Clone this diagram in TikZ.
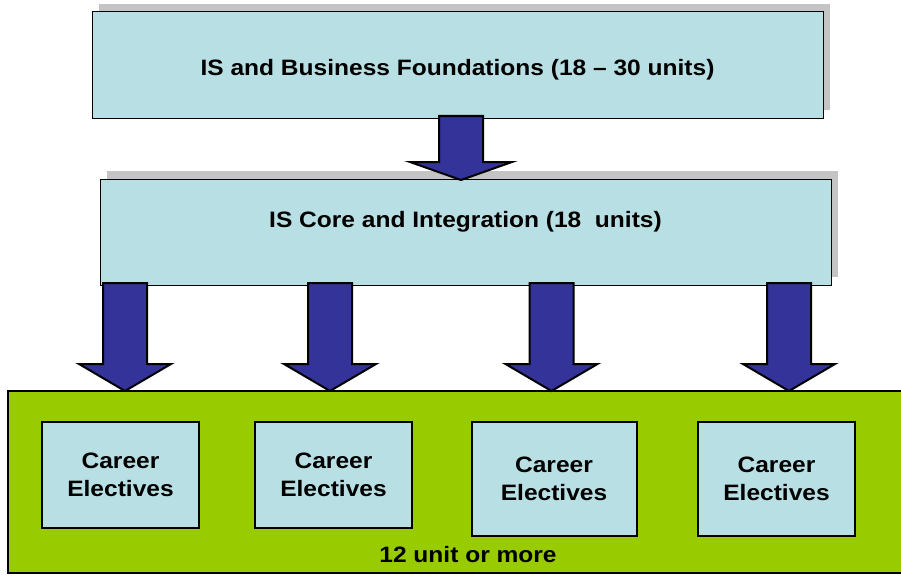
\documentclass[tikz,border=0pt]{standalone}
\usepackage{fontspec}
\setmainfont{Liberation Sans}[FakeStretch=1.1]
\usetikzlibrary{shadows}
\definecolor{boxblue}{HTML}{B8E0E4}
\definecolor{leaf}{HTML}{99CC00}
\definecolor{navyfill}{HTML}{333399}
\definecolor{shadowgray}{HTML}{C4C4C4}
\newcommand\blkarrow[5]{% cx, ytop, ybase, ytip, head half width
  \draw[blockarrow] (#1-22,#2) -- (#1+22,#2) -- (#1+22,#3) -- (#1+#5,#3) -- (#1,#4) -- (#1-#5,#3) -- (#1-22,#3) -- cycle;}
\begin{document}
\begin{tikzpicture}[x=1pt,y=-1pt,
  lbl/.style={font=\fontsize{22.3}{28}\selectfont\bfseries, align=center},
  topbox/.style={draw=black, line width=1pt, fill=boxblue, inner sep=0pt,
    drop shadow={shadow xshift=7pt, shadow yshift=8pt, fill=shadowgray, opacity=1}},
  careerbox/.style={draw=black, line width=2pt, fill=boxblue, inner sep=0pt, lbl},
  greenbox/.style={draw=black, line width=2pt, fill=leaf, inner sep=0pt},
  blockarrow/.style={draw=black, line width=2pt, fill=navyfill, line join=miter}]
\useasboundingbox (0,0) rectangle (901,575);

% top level boxes
\node[topbox, minimum width=731pt, minimum height=106pt] (found) at (457.5,65) {};
\node[lbl] (foundtext) at (457.5,70) {IS and Business Foundations (18 -- 30 units)};
\node[topbox, minimum width=731pt, minimum height=106pt] (core) at (465.5,232) {};
\node[lbl] (coretext) at (465.5,222) {IS Core and Integration (18\ \ units)};

% green area
\node[greenbox, minimum width=896pt, minimum height=182pt] (area) at (456,482) {};

% career boxes
\node[careerbox, minimum width=157pt, minimum height=106pt] (c1) at (120.5,475) {Career\\Electives};
\node[careerbox, minimum width=157pt, minimum height=106pt] (c2) at (333.5,475) {Career\\Electives};
\node[careerbox, minimum width=165pt, minimum height=114pt] (c3) at (554,479) {Career\\Electives};
\node[careerbox, minimum width=157pt, minimum height=114pt] (c4) at (776.5,479) {Career\\Electives};

\node[lbl] (units) at (468,555) {12 unit or more};

% block arrows
\blkarrow{461}{116}{162}{180}{51}
\blkarrow{125}{283}{364}{391}{46}
\blkarrow{330}{283}{364}{391}{46}
\blkarrow{551.5}{283}{364}{391}{46}
\blkarrow{789}{283}{364}{391}{46}
\end{tikzpicture}
\end{document}
